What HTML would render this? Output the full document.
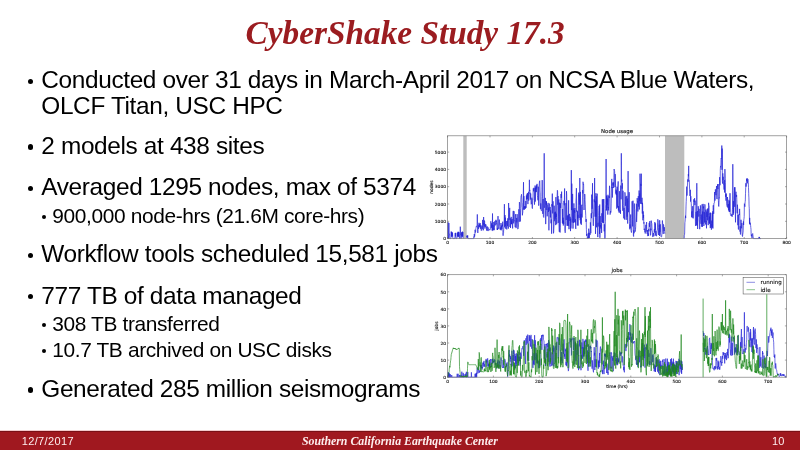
<!DOCTYPE html>
<html><head><meta charset="utf-8"><title>CyberShake Study 17.3</title>
<style>
*{margin:0;padding:0;box-sizing:border-box}
html,body{width:800px;height:450px;overflow:hidden;background:#fff}
body{position:relative;font-family:"Liberation Sans", Arial, sans-serif;color:#000}
.t{position:absolute;white-space:nowrap;line-height:0}
.dot{position:absolute;border-radius:50%;background:#000}
.title{font-family:"Liberation Serif", "Times New Roman", serif;font-weight:bold;font-style:italic;color:#9b1c20}
svg{position:absolute;left:0;top:0}
.tl{font-family:"DejaVu Sans",sans-serif;font-size:4.4px;fill:#111;stroke:#111;stroke-width:0.12}
.tt{font-family:"DejaVu Sans",sans-serif;font-size:5.4px;fill:#111;stroke:#111;stroke-width:0.12}
#foot{position:absolute;left:0;top:430px;width:800px;height:20px;background:linear-gradient(#f2c9cb 0,#f2c9cb 0.6px,#7a1016 1.2px,#7a1016 2px,#a0181f 2.2px,#a0181f 100%)}
.f{color:#fdeeee}
</style></head><body>
<svg width="800" height="450" viewBox="0 0 800 450">
<defs><filter id="bl" x="-5%" y="-5%" width="110%" height="110%"><feGaussianBlur stdDeviation="0.3"/></filter></defs><g filter="url(#bl)"><rect x="463.3" y="135.8" width="3.4" height="102.8" fill="#bdbdbd"/><rect x="665.0" y="135.8" width="19.3" height="102.8" fill="#bdbdbd"/><path d="M447.6 238.6 447.8 238.6 448.0 222.2 448.2 233.9 448.4 238.6 448.7 233.9 448.9 223.0 449.1 233.9 449.3 233.9 449.5 233.9 449.7 238.6 449.9 238.6 450.1 238.6 450.4 238.6 450.6 238.6 450.8 238.6 451.0 236.5 451.2 231.5 451.4 236.5 451.6 231.9 451.8 236.5 452.0 232.6 452.3 236.5 452.5 232.6 452.7 236.5 452.9 238.6 453.1 238.6 453.3 238.6 453.5 238.6 453.7 238.6 454.0 238.6 454.2 238.6 454.4 238.6 454.6 238.6 454.8 238.6 455.0 236.5 455.2 233.1 455.4 236.5 455.7 232.8 455.9 238.6 456.1 238.6 456.3 238.6 456.5 238.6 456.7 238.6 456.9 238.6 457.1 236.5 457.3 233.1 457.6 236.5 457.8 232.3 458.0 236.5 458.2 231.7 458.4 236.5 458.6 232.0 458.8 236.5 459.0 232.4 459.3 238.6 459.5 238.6 459.7 238.6 459.9 235.0 460.1 235.0 460.3 226.7 460.5 235.0 460.7 235.0 460.9 238.6 461.2 238.6 461.4 236.5 461.6 232.3 461.8 236.5 462.0 232.7 462.2 236.5 462.4 231.6 462.6 236.5 462.9 232.1 463.1 238.6M466.7 237.5 466.9 235.7 467.1 237.5 467.3 235.6 467.5 237.5 467.7 235.5 467.9 238.6 468.2 238.6 468.4 238.6 468.6 238.6 468.8 238.6 469.0 238.6 469.2 238.6 469.4 238.6 469.6 238.6 469.8 238.6 470.1 238.6 470.3 238.6 470.5 238.6 470.7 238.6 470.9 238.6 471.1 238.6 471.3 238.6 471.5 238.6 471.8 238.6 472.0 238.6 472.2 238.6 472.4 238.6 472.6 238.6 472.8 238.6 473.0 238.6 473.2 238.6 473.4 238.6 473.7 238.6 473.9 236.6 474.1 237.4 474.3 234.0 474.5 236.6 474.7 236.6 474.9 234.2 475.1 229.8 475.4 232.5 475.6 231.9 475.8 228.6 476.0 228.2 476.2 226.8 476.4 226.0 476.6 226.5 476.8 225.9 477.1 224.8 477.3 214.4 477.5 223.3 477.7 232.5 477.9 233.0 478.1 226.3 478.3 225.4 478.5 228.8 478.7 226.6 479.0 222.8 479.2 227.1 479.4 224.2 479.6 225.9 479.8 226.8 480.0 227.3 480.2 223.1 480.4 228.6 480.7 228.9 480.9 225.1 481.1 229.3 481.3 230.7 481.5 228.3 481.7 227.3 481.9 227.2 482.1 226.0 482.3 229.2 482.6 219.9 482.8 225.0 483.0 227.3 483.2 230.4 483.4 230.0 483.6 217.0 483.8 224.7 484.0 223.0 484.3 226.4 484.5 220.5 484.7 222.0 484.9 228.6 485.1 224.8 485.3 227.1 485.5 224.4 485.7 224.9 485.9 224.5 486.2 225.1 486.4 228.9 486.6 230.6 486.8 227.2 487.0 227.6 487.2 226.4 487.4 228.3 487.6 230.7 487.9 230.8 488.1 227.4 488.3 229.5 488.5 229.5 488.7 230.7 488.9 230.5 489.1 230.3 489.3 229.8 489.6 229.3 489.8 229.9 490.0 230.1 490.2 229.4 490.4 227.6 490.6 227.8 490.8 221.3 491.0 222.8 491.2 223.8 491.5 227.7 491.7 223.3 491.9 228.6 492.1 230.6 492.3 230.7 492.5 213.5 492.7 230.3 492.9 225.1 493.2 226.1 493.4 230.2 493.6 229.5 493.8 222.0 494.0 227.2 494.2 230.2 494.4 227.6 494.6 222.3 494.8 221.3 495.1 224.8 495.3 225.4 495.5 225.1 495.7 222.1 495.9 219.8 496.1 222.4 496.3 220.7 496.5 224.3 496.8 223.5 497.0 228.5 497.2 229.9 497.4 228.1 497.6 230.0 497.8 226.2 498.0 216.1 498.2 227.9 498.5 227.9 498.7 228.8 498.9 228.1 499.1 223.8 499.3 219.6 499.5 224.6 499.7 224.6 499.9 226.3 500.1 229.5 500.4 227.6 500.6 229.7 500.8 228.8 501.0 223.0 501.2 230.3 501.4 228.6 501.6 225.6 501.8 229.0 502.1 226.0 502.3 224.6 502.5 226.4 502.7 221.7 502.9 233.0 503.1 235.7 503.3 233.0 503.5 232.8 503.7 229.3 504.0 226.8 504.2 219.2 504.4 204.2 504.6 227.2 504.8 227.2 505.0 215.1 505.2 226.0 505.4 217.7 505.7 228.7 505.9 225.0 506.1 224.7 506.3 221.1 506.5 225.8 506.7 229.3 506.9 229.4 507.1 223.2 507.3 220.8 507.6 226.2 507.8 218.3 508.0 225.1 508.2 227.0 508.4 228.6 508.6 203.0 508.8 209.0 509.0 219.9 509.3 218.2 509.5 212.8 509.7 207.9 509.9 226.9 510.1 223.9 510.3 218.3 510.5 228.0 510.7 224.3 511.0 222.3 511.2 216.9 511.4 224.1 511.6 220.5 511.8 224.2 512.0 219.1 512.2 219.1 512.4 223.2 512.6 228.4 512.9 216.5 513.1 211.9 513.3 210.9 513.5 220.7 513.7 223.4 513.9 211.4 514.1 211.2 514.3 220.9 514.6 221.0 514.8 220.6 515.0 222.6 515.2 227.2 515.4 216.2 515.6 214.2 515.8 219.3 516.0 228.1 516.2 227.7 516.5 225.1 516.7 218.0 516.9 222.4 517.1 214.1 517.3 216.2 517.5 224.1 517.7 229.1 517.9 229.0 518.2 228.6 518.4 227.4 518.6 223.0 518.8 209.3 519.0 211.5 519.2 221.8 519.4 202.1 519.6 203.0 519.8 208.4 520.1 212.3 520.3 221.5 520.5 212.9 520.7 208.6 520.9 197.9 521.1 196.0 521.3 195.6 521.5 194.3 521.8 199.9 522.0 207.2 522.2 207.4 522.4 215.3 522.6 213.1 522.8 212.1 523.0 203.3 523.2 202.9 523.5 182.2 523.7 209.5 523.9 196.1 524.1 209.9 524.3 209.5 524.5 206.3 524.7 208.6 524.9 208.2 525.1 206.1 525.4 208.7 525.6 205.6 525.8 200.9 526.0 207.9 526.2 205.6 526.4 195.5 526.6 199.5 526.8 196.6 527.1 193.7 527.3 199.0 527.5 193.1 527.7 193.4 527.9 204.1 528.1 198.5 528.3 193.3 528.5 191.8 528.7 200.6 529.0 197.5 529.2 191.0 529.4 179.8 529.6 190.9 529.8 189.9 530.0 193.7 530.2 192.8 530.4 199.5 530.7 193.6 530.9 198.3 531.1 204.3 531.3 204.1 531.5 204.0 531.7 200.2 531.9 197.7 532.1 207.4 532.4 208.6 532.6 204.0 532.8 199.1 533.0 199.3 533.2 188.7 533.4 188.4 533.6 191.3 533.8 190.2 534.0 187.8 534.3 189.2 534.5 204.6 534.7 201.0 534.9 198.4 535.1 185.5 535.3 201.6 535.5 187.8 535.7 192.1 536.0 186.6 536.2 191.9 536.4 192.1 536.6 185.2 536.8 188.5 537.0 183.9 537.2 188.8 537.4 195.3 537.6 197.2 537.9 200.3 538.1 200.1 538.3 186.7 538.5 200.1 538.7 205.7 538.9 203.7 539.1 186.4 539.3 183.1 539.6 181.1 539.8 180.7 540.0 191.0 540.2 192.4 540.4 208.9 540.6 208.9 540.8 203.4 541.0 209.5 541.2 210.5 541.5 210.8 541.7 209.9 541.9 196.4 542.1 180.3 542.3 180.1 542.5 198.5 542.7 213.8 542.9 212.2 543.2 198.9 543.4 216.4 543.6 217.2 543.8 217.5 544.0 214.5 544.2 153.3 544.4 207.8 544.6 207.5 544.9 206.3 545.1 204.2 545.3 197.9 545.5 210.3 545.7 224.1 545.9 215.1 546.1 201.0 546.3 204.9 546.5 201.6 546.8 210.1 547.0 204.7 547.2 216.3 547.4 210.5 547.6 209.5 547.8 208.7 548.0 203.2 548.2 202.9 548.5 211.9 548.7 207.5 548.9 230.3 549.1 214.5 549.3 203.5 549.5 204.6 549.7 206.2 549.9 210.6 550.1 207.0 550.4 217.4 550.6 210.3 550.8 218.2 551.0 223.3 551.2 219.9 551.4 219.6 551.6 233.7 551.8 204.2 552.1 206.5 552.3 193.6 552.5 210.2 552.7 213.4 552.9 210.0 553.1 201.3 553.3 219.3 553.5 233.3 553.7 231.8 554.0 224.7 554.2 205.7 554.4 220.6 554.6 221.2 554.8 212.4 555.0 217.3 555.2 218.6 555.4 211.7 555.7 225.1 555.9 197.1 556.1 217.1 556.3 213.7 556.5 217.7 556.7 224.2 556.9 211.3 557.1 196.3 557.4 190.3 557.6 191.6 557.8 204.8 558.0 196.0 558.2 223.0 558.4 216.1 558.6 204.2 558.8 199.4 559.0 222.6 559.3 231.8 559.5 202.7 559.7 214.3 559.9 231.1 560.1 232.5 560.3 227.3 560.5 203.3 560.7 207.9 561.0 194.0 561.2 197.9 561.4 197.1 561.6 191.6 561.8 203.2 562.0 203.1 562.2 214.1 562.4 222.9 562.6 209.0 562.9 223.9 563.1 217.7 563.3 225.5 563.5 220.6 563.7 223.8 563.9 200.9 564.1 203.1 564.3 205.3 564.6 188.5 564.8 230.9 565.0 231.8 565.2 232.8 565.4 231.9 565.6 221.9 565.8 205.8 566.0 203.1 566.2 219.9 566.5 191.2 566.7 195.2 566.9 206.2 567.1 225.8 567.3 215.6 567.5 222.9 567.7 225.6 567.9 218.9 568.2 214.8 568.4 225.9 568.6 200.3 568.8 222.3 569.0 229.2 569.2 220.0 569.4 215.8 569.6 213.9 569.9 220.9 570.1 216.8 570.3 224.0 570.5 231.1 570.7 218.6 570.9 228.5 571.1 225.6 571.3 170.1 571.5 210.1 571.8 183.6 572.0 210.6 572.2 222.5 572.4 218.5 572.6 193.9 572.8 208.1 573.0 228.6 573.2 208.4 573.5 223.0 573.7 222.1 573.9 203.4 574.1 218.4 574.3 222.1 574.5 210.1 574.7 212.8 574.9 208.0 575.1 222.5 575.4 219.2 575.6 227.0 575.8 228.9 576.0 200.1 576.2 197.1 576.4 188.2 576.6 211.6 576.8 210.4 577.1 211.2 577.3 225.4 577.5 211.3 577.7 218.4 577.9 214.8 578.1 225.6 578.3 205.3 578.5 194.3 578.8 192.6 579.0 213.6 579.2 217.9 579.4 194.4 579.6 204.6 579.8 178.0 580.0 201.2 580.2 220.2 580.4 191.9 580.7 223.6 580.9 215.1 581.1 213.9 581.3 224.8 581.5 217.3 581.7 205.0 581.9 204.7 582.1 217.5 582.4 206.4 582.6 190.1 582.8 193.4 583.0 181.8 583.2 182.5 583.4 184.9 583.6 184.4 583.8 197.6 584.0 210.0 584.3 203.0 584.5 199.5 584.7 194.0 584.9 195.1 585.1 200.6 585.3 204.9 585.5 210.9 585.7 215.3 586.0 221.8 586.2 219.1 586.4 229.3 586.6 235.7 586.8 234.0 587.0 235.9 587.2 236.1 587.4 238.5 587.6 237.4 587.9 236.9 588.1 234.7 588.3 232.9 588.5 238.3 588.7 228.7 588.9 230.5 589.1 231.3 589.3 238.0 589.6 234.7 589.8 232.9 590.0 234.9 590.2 231.7 590.4 222.4 590.6 225.8 590.8 233.2 591.0 215.1 591.3 213.1 591.5 218.2 591.7 194.6 591.9 198.6 592.1 208.8 592.3 207.8 592.5 183.2 592.7 213.1 592.9 212.8 593.2 224.9 593.4 225.8 593.6 217.5 593.8 209.9 594.0 204.0 594.2 199.4 594.4 202.2 594.6 178.0 594.9 211.9 595.1 216.7 595.3 201.3 595.5 233.9 595.7 219.5 595.9 193.2 596.1 216.8 596.3 196.3 596.5 227.3 596.8 216.2 597.0 195.9 597.2 193.7 597.4 208.9 597.6 230.8 597.8 237.1 598.0 222.8 598.2 226.5 598.5 223.0 598.7 215.5 598.9 210.2 599.1 205.9 599.3 207.6 599.5 233.9 599.7 204.5 599.9 237.8 600.2 216.1 600.4 226.6 600.6 225.1 600.8 228.5 601.0 227.9 601.2 223.1 601.4 223.2 601.6 232.9 601.8 213.3 602.1 222.3 602.3 199.3 602.5 207.7 602.7 222.7 602.9 210.5 603.1 199.3 603.3 221.1 603.5 223.0 603.8 199.0 604.0 221.6 604.2 231.3 604.4 224.3 604.6 234.9 604.8 238.6 605.0 238.6 605.2 236.0 605.4 221.2 605.7 208.4 605.9 204.5 606.1 159.0 606.3 210.4 606.5 195.6 606.7 210.3 606.9 196.4 607.1 205.3 607.4 202.6 607.6 198.5 607.8 214.6 608.0 194.8 608.2 207.8 608.4 207.1 608.6 210.4 608.8 201.2 609.0 196.0 609.3 198.0 609.5 185.8 609.7 189.4 609.9 199.2 610.1 214.6 610.3 213.5 610.5 211.2 610.7 212.3 611.0 212.5 611.2 203.9 611.4 190.0 611.6 180.8 611.8 178.9 612.0 188.0 612.2 187.0 612.4 197.5 612.7 187.1 612.9 182.6 613.1 185.5 613.3 182.4 613.5 185.1 613.7 188.0 613.9 177.7 614.1 169.0 614.3 170.2 614.6 171.2 614.8 175.8 615.0 187.0 615.2 174.1 615.4 183.8 615.6 185.6 615.8 193.6 616.0 189.6 616.3 195.1 616.5 190.6 616.7 208.6 616.9 207.1 617.1 186.7 617.3 203.8 617.5 207.5 617.7 187.0 617.9 186.4 618.2 181.4 618.4 210.5 618.6 206.1 618.8 211.6 619.0 212.5 619.2 208.6 619.4 191.2 619.6 210.2 619.9 212.6 620.1 212.6 620.3 210.2 620.5 213.8 620.7 185.6 620.9 186.0 621.1 199.3 621.3 153.3 621.5 181.5 621.8 179.7 622.0 186.3 622.2 188.7 622.4 183.2 622.6 204.4 622.8 210.8 623.0 190.8 623.2 205.4 623.5 210.4 623.7 218.1 623.9 218.4 624.1 207.9 624.3 215.1 624.5 219.5 624.7 219.2 624.9 192.3 625.2 194.9 625.4 205.8 625.6 201.5 625.8 196.6 626.0 198.0 626.2 219.9 626.4 209.8 626.6 209.6 626.8 195.9 627.1 216.6 627.3 198.6 627.5 207.9 627.7 223.6 627.9 203.1 628.1 171.1 628.3 207.6 628.5 212.2 628.8 198.2 629.0 193.8 629.2 192.2 629.4 193.9 629.6 221.7 629.8 229.3 630.0 224.4 630.2 228.1 630.4 218.4 630.7 214.5 630.9 229.3 631.1 231.1 631.3 232.3 631.5 232.6 631.7 230.5 631.9 217.4 632.1 201.3 632.4 219.7 632.6 226.4 632.8 203.1 633.0 200.7 633.2 204.4 633.4 235.4 633.6 236.5 633.8 230.3 634.1 233.2 634.3 203.5 634.5 208.9 634.7 209.6 634.9 227.5 635.1 231.7 635.3 230.9 635.5 229.5 635.7 226.4 636.0 218.0 636.2 212.9 636.4 203.7 636.6 221.9 636.8 216.8 637.0 213.0 637.2 198.1 637.4 202.4 637.7 201.4 637.9 211.5 638.1 201.8 638.3 196.1 638.5 205.7 638.7 206.6 638.9 202.1 639.1 190.5 639.3 209.5 639.6 193.4 639.8 200.9 640.0 173.7 640.2 181.2 640.4 189.1 640.6 203.8 640.8 183.9 641.0 185.9 641.3 173.7 641.5 199.4 641.7 204.1 641.9 197.9 642.1 197.8 642.3 213.5 642.5 202.8 642.7 206.8 642.9 220.3 643.2 211.4 643.4 217.8 643.6 215.0 643.8 223.5 644.0 222.3 644.2 229.9 644.4 228.7 644.6 231.7 644.9 231.3 645.1 233.4 645.3 233.4 645.5 230.9 645.7 228.7 645.9 224.9 646.1 231.6 646.3 224.4 646.6 222.1 646.8 229.7 647.0 233.1 647.2 233.8 647.4 232.3 647.6 230.0 647.8 236.1 648.0 233.9 648.2 233.4 648.5 235.8 648.7 228.9 648.9 231.3 649.1 223.5 649.3 222.8 649.5 226.9 649.7 221.8 649.9 221.0 650.2 226.2 650.4 235.4 650.6 234.9 650.8 228.7 651.0 230.2 651.2 220.6 651.4 222.0 651.6 223.2 651.8 223.5 652.1 231.3 652.3 231.2 652.5 234.0 652.7 236.8 652.9 236.9 653.1 234.9 653.3 234.7 653.5 233.0 653.8 236.3 654.0 235.9 654.2 230.1 654.4 229.1 654.6 232.5 654.8 222.1 655.0 225.3 655.2 229.9 655.4 223.4 655.7 235.5 655.9 230.8 656.1 235.4 656.3 236.0 656.5 236.2 656.7 234.7 656.9 233.1 657.1 230.8 657.4 230.1 657.6 222.2 657.8 219.3 658.0 220.3 658.2 221.0 658.4 227.6 658.6 235.0 658.8 230.5 659.1 229.9 659.3 224.7 659.5 236.0 659.7 220.2 659.9 232.2 660.1 231.2 660.3 224.3 660.5 234.7 660.7 235.2 661.0 236.8 661.2 236.9 661.4 236.9 661.6 236.6 661.8 234.3 662.0 234.3 662.2 225.4 662.4 220.5 662.7 224.2 662.9 229.7 663.1 232.3 663.3 233.9 663.5 224.4 663.7 225.5 663.9 230.2 664.1 231.0 664.3 227.2 664.6 231.6 664.8 233.8M684.1 238.6 684.3 235.2 684.5 234.8 684.7 232.1 684.9 222.7 685.1 221.2 685.3 218.1 685.5 215.7 685.7 218.1 686.0 206.9 686.2 201.8 686.4 197.9 686.6 191.7 686.8 186.6 687.0 195.6 687.2 187.4 687.4 186.5 687.7 179.7 687.9 179.3 688.1 181.9 688.3 174.2 688.5 176.3 688.7 165.9 688.9 180.9 689.1 180.4 689.3 180.8 689.6 189.9 689.8 193.5 690.0 196.0 690.2 193.0 690.4 189.8 690.6 201.6 690.8 196.2 691.0 201.1 691.3 203.6 691.5 211.7 691.7 217.2 691.9 211.2 692.1 216.8 692.3 217.7 692.5 210.7 692.7 206.2 693.0 218.2 693.2 218.4 693.4 217.8 693.6 202.4 693.8 199.3 694.0 200.8 694.2 202.3 694.4 200.1 694.6 198.2 694.9 205.1 695.1 200.6 695.3 214.0 695.5 226.0 695.7 225.8 695.9 223.3 696.1 211.9 696.3 224.8 696.6 224.9 696.8 183.2 697.0 225.8 697.2 225.4 697.4 211.0 697.6 229.0 697.8 222.1 698.0 220.5 698.2 206.2 698.5 209.5 698.7 216.5 698.9 216.5 699.1 208.8 699.3 210.8 699.5 213.4 699.7 229.2 699.9 220.6 700.2 219.6 700.4 205.4 700.6 210.1 700.8 214.4 701.0 223.8 701.2 214.5 701.4 219.3 701.6 226.7 701.9 208.9 702.1 204.3 702.3 212.0 702.5 226.8 702.7 211.5 702.9 224.1 703.1 203.9 703.3 208.3 703.5 206.5 703.8 226.0 704.0 224.8 704.2 211.9 704.4 212.5 704.6 222.5 704.8 204.3 705.0 205.2 705.2 212.5 705.5 222.7 705.7 224.5 705.9 209.6 706.1 222.1 706.3 221.3 706.5 228.3 706.7 211.6 706.9 217.0 707.1 210.2 707.4 208.9 707.6 220.3 707.8 213.3 708.0 208.3 708.2 225.1 708.4 215.5 708.6 202.8 708.8 205.4 709.1 205.6 709.3 223.3 709.5 216.5 709.7 223.8 709.9 212.9 710.1 215.2 710.3 228.1 710.5 212.7 710.7 217.1 711.0 227.3 711.2 223.4 711.4 229.7 711.6 221.3 711.8 220.6 712.0 223.2 712.2 212.9 712.4 227.7 712.7 211.3 712.9 228.5 713.1 206.5 713.3 205.2 713.5 207.5 713.7 213.8 713.9 203.4 714.1 203.4 714.4 202.6 714.6 192.0 714.8 197.7 715.0 200.6 715.2 195.1 715.4 189.3 715.6 193.3 715.8 193.8 716.0 195.2 716.3 190.8 716.5 186.0 716.7 197.1 716.9 199.0 717.1 199.2 717.3 192.2 717.5 184.3 717.7 187.4 718.0 189.1 718.2 184.0 718.4 200.4 718.6 206.1 718.8 206.5 719.0 202.5 719.2 197.7 719.4 198.2 719.6 177.2 719.9 185.3 720.1 184.9 720.3 170.6 720.5 166.3 720.7 167.2 720.9 164.2 721.1 158.4 721.3 159.0 721.6 157.6 721.8 145.5 722.0 169.8 722.2 148.6 722.4 181.7 722.6 183.6 722.8 173.3 723.0 179.9 723.2 176.8 723.5 184.5 723.7 184.3 723.9 185.8 724.1 189.6 724.3 180.1 724.5 192.5 724.7 184.7 724.9 169.1 725.2 178.5 725.4 182.5 725.6 196.8 725.8 194.3 726.0 200.7 726.2 193.4 726.4 196.7 726.6 203.9 726.9 205.2 727.1 206.4 727.3 206.8 727.5 197.0 727.7 201.0 727.9 207.1 728.1 208.1 728.3 204.0 728.5 210.4 728.8 207.4 729.0 199.8 729.2 211.8 729.4 201.1 729.6 211.9 729.8 210.5 730.0 193.2 730.2 212.3 730.5 214.8 730.7 215.3 730.9 215.8 731.1 215.2 731.3 215.3 731.5 215.3 731.7 215.8 731.9 213.9 732.1 216.8 732.4 209.8 732.6 207.1 732.8 164.2 733.0 190.6 733.2 214.9 733.4 201.1 733.6 213.3 733.8 206.4 734.1 199.8 734.3 192.6 734.5 187.5 734.7 206.8 734.9 187.1 735.1 189.8 735.3 207.4 735.5 222.3 735.8 193.6 736.0 191.8 736.2 196.7 736.4 196.9 736.6 194.9 736.8 199.2 737.0 209.9 737.2 213.3 737.4 204.7 737.7 209.2 737.9 225.2 738.1 215.0 738.3 229.2 738.5 229.5 738.7 215.4 738.9 214.7 739.1 214.1 739.4 215.1 739.6 208.9 739.8 213.1 740.0 231.6 740.2 226.2 740.4 234.1 740.6 234.5 740.8 228.3 741.0 219.8 741.3 227.0 741.5 228.1 741.7 228.3 741.9 223.1 742.1 231.6 742.3 235.5 742.5 236.5 742.7 234.8 743.0 232.7 743.2 230.8 743.4 221.4 743.6 225.0 743.8 219.9 744.0 218.5 744.2 216.7 744.4 203.7 744.6 204.9 744.9 206.7 745.1 201.9 745.3 201.1 745.5 193.8 745.7 187.5 745.9 183.2 746.1 186.6 746.3 183.9 746.6 178.8 746.8 181.1 747.0 178.9 747.2 178.2 747.4 183.3 747.6 180.0 747.8 179.5 748.0 179.2 748.3 182.6 748.5 187.6 748.7 193.7 748.9 197.9 749.1 206.1 749.3 208.7 749.5 223.8 749.7 217.9 749.9 224.5 750.2 222.7 750.4 223.4 750.6 225.6 750.8 227.5 751.0 229.3 751.2 235.3 751.4 236.2 751.6 234.5 751.9 237.6 752.1 238.2 752.3 234.8 752.5 234.0 752.7 233.5 752.9 235.1 753.1 236.4 753.3 237.4 753.5 238.6 753.8 238.6 754.0 238.6 754.2 238.6 754.4 238.6 754.6 238.6 754.8 238.6 755.0 238.6 755.2 238.6 755.5 238.6 755.7 238.6 755.9 238.6 756.1 238.6 756.3 238.6 756.5 238.6 756.7 238.6 756.9 238.6 757.1 238.6 757.4 238.6 757.6 238.6 757.8 238.6 758.0 238.6 758.2 238.6 758.4 238.6 758.6 238.6 758.8 238.6 759.1 236.9 759.3 238.6 759.5 237.2 759.7 238.6 759.9 238.6 760.1 238.6 760.3 238.6 760.5 238.6 760.8 238.6 761.0 238.6" stroke="#2424d6" stroke-width="0.7" fill="none" stroke-linejoin="round"/>
<path d="M447.6 377.2 447.8 377.2 448.1 372.4 448.3 377.2 448.5 377.2 448.7 372.4 449.0 377.2 449.2 377.2 449.4 373.4 449.7 377.2 449.9 377.2 450.1 377.2 450.3 374.2 450.6 377.2 450.8 377.2 451.0 377.2 451.3 377.2 451.5 377.2 451.7 375.0 452.0 377.2 452.2 377.2 452.4 377.2 452.6 377.2 452.9 377.2 453.1 377.2 453.3 377.2 453.6 377.2 453.8 377.2 454.0 377.2 454.2 377.2 454.5 377.2 454.7 377.2 454.9 377.2 455.2 377.2 455.4 377.2 455.6 377.2 455.8 377.2 456.1 377.2 456.3 377.2 456.5 377.2 456.8 377.2 457.0 377.2 457.2 373.8 457.4 377.2 457.7 377.2 457.9 377.2 458.1 373.8 458.4 377.2 458.6 377.2 458.8 377.2 459.0 377.2 459.3 377.2 459.5 375.0 459.7 377.2 460.0 377.2 460.2 377.2 460.4 377.2 460.7 377.2 460.9 375.0 461.1 377.2 461.3 377.2 461.6 377.2 461.8 371.7 462.0 377.2 462.3 377.2 462.5 377.2 462.7 377.2 462.9 377.2 463.2 372.9 463.4 377.2 463.6 377.2 463.9 377.2 464.1 374.3 464.3 377.2 464.5 377.2 464.8 377.2 465.0 377.2 465.2 377.2 465.5 373.7 465.7 377.2 465.9 377.2 466.1 377.2 466.4 371.8 466.6 377.2 466.8 377.2 467.1 377.2 467.3 377.2 467.5 377.2 467.8 372.1 468.0 377.2 468.2 377.2 468.4 377.2 468.7 377.2 468.9 377.2 469.1 377.2 469.4 377.2 469.6 377.2 469.8 377.2 470.0 377.2 470.3 377.2 470.5 377.2 470.7 377.2 471.0 377.2 471.2 377.2 471.4 372.3 471.6 377.2 471.9 377.2 472.1 377.2 472.3 377.2 472.6 377.2 472.8 377.2 473.0 377.2 473.2 377.2 473.5 377.2 473.7 377.2 473.9 377.2 474.2 377.2 474.4 377.2 474.6 377.2 474.8 377.2 475.1 373.8 475.3 377.2 475.5 377.2 475.8 373.5 476.0 377.2 476.2 377.2 476.5 372.8 476.7 377.2 476.9 369.7 477.1 368.4 477.4 367.8 477.6 367.6 477.8 373.5 478.1 372.5 478.3 369.5 478.5 370.2 478.7 370.1 479.0 370.6 479.2 372.9 479.4 370.8 479.7 371.4 479.9 372.1 480.1 369.6 480.3 367.6 480.6 365.5 480.8 365.2 481.0 367.6 481.3 364.9 481.5 368.0 481.7 366.9 481.9 368.6 482.2 369.4 482.4 367.1 482.6 368.1 482.9 362.7 483.1 366.7 483.3 362.6 483.6 364.2 483.8 362.3 484.0 360.9 484.2 366.3 484.5 364.3 484.7 365.1 484.9 367.1 485.2 363.4 485.4 362.3 485.6 361.9 485.8 359.4 486.1 358.9 486.3 359.7 486.5 362.6 486.8 359.7 487.0 362.1 487.2 366.6 487.4 360.6 487.7 358.3 487.9 362.1 488.1 361.8 488.4 366.3 488.6 363.7 488.8 364.9 489.0 367.4 489.3 363.8 489.5 365.9 489.7 364.0 490.0 365.9 490.2 360.2 490.4 359.0 490.6 361.1 490.9 367.4 491.1 365.9 491.3 367.0 491.6 362.5 491.8 359.4 492.0 360.3 492.3 359.2 492.5 363.5 492.7 361.6 492.9 358.7 493.2 363.1 493.4 361.2 493.6 361.8 493.9 360.4 494.1 361.5 494.3 362.2 494.5 359.4 494.8 360.7 495.0 360.3 495.2 365.2 495.5 364.2 495.7 362.9 495.9 363.9 496.1 364.3 496.4 368.2 496.6 368.5 496.8 368.4 497.1 368.2 497.3 363.0 497.5 361.6 497.7 366.4 498.0 359.7 498.2 365.4 498.4 367.7 498.7 368.2 498.9 367.7 499.1 360.7 499.4 362.9 499.6 362.2 499.8 367.3 500.0 367.7 500.3 360.2 500.5 358.7 500.7 358.2 501.0 357.4 501.2 357.7 501.4 357.9 501.6 361.2 501.9 366.4 502.1 367.3 502.3 367.2 502.6 367.9 502.8 366.1 503.0 360.1 503.2 361.5 503.5 366.7 503.7 368.0 503.9 365.2 504.2 362.4 504.4 362.3 504.6 361.1 504.8 359.1 505.1 360.3 505.3 360.5 505.5 362.6 505.8 367.6 506.0 366.3 506.2 366.0 506.4 364.5 506.7 366.0 506.9 364.2 507.1 362.4 507.4 370.3 507.6 376.7 507.8 375.4 508.1 372.4 508.3 366.3 508.5 358.2 508.7 356.5 509.0 352.8 509.2 349.9 509.4 356.7 509.7 354.3 509.9 359.2 510.1 361.7 510.3 355.9 510.6 359.0 510.8 357.5 511.0 364.8 511.3 363.8 511.5 366.9 511.7 367.0 511.9 350.8 512.2 354.1 512.4 357.5 512.6 360.5 512.9 366.2 513.1 355.0 513.3 360.8 513.5 349.8 513.8 354.0 514.0 350.4 514.2 353.0 514.5 358.4 514.7 361.0 514.9 353.9 515.2 357.2 515.4 368.3 515.6 356.0 515.8 361.6 516.1 363.5 516.3 353.3 516.5 364.7 516.8 365.8 517.0 360.3 517.2 356.2 517.4 354.0 517.7 361.0 517.9 354.5 518.1 358.5 518.4 356.7 518.6 363.1 518.8 351.8 519.0 354.8 519.3 356.9 519.5 361.0 519.7 356.7 520.0 365.6 520.2 363.5 520.4 363.9 520.6 352.6 520.9 356.6 521.1 358.9 521.3 358.4 521.6 353.1 521.8 348.6 522.0 348.9 522.2 349.1 522.5 347.4 522.7 346.8 522.9 346.1 523.2 348.4 523.4 350.4 523.6 355.9 523.9 342.5 524.1 341.2 524.3 340.1 524.5 344.6 524.8 344.5 525.0 350.2 525.2 355.1 525.5 363.3 525.7 364.0 525.9 338.3 526.1 344.9 526.4 339.4 526.6 335.9 526.8 336.1 527.1 335.8 527.3 343.6 527.5 336.4 527.7 334.6 528.0 335.3 528.2 340.7 528.4 349.7 528.7 360.9 528.9 349.9 529.1 340.3 529.3 335.1 529.6 341.0 529.8 337.4 530.0 336.2 530.3 338.8 530.5 346.6 530.7 342.6 531.0 334.9 531.2 340.3 531.4 344.7 531.6 348.7 531.9 347.8 532.1 339.1 532.3 346.3 532.6 365.3 532.8 367.2 533.0 367.9 533.2 364.9 533.5 360.5 533.7 364.3 533.9 353.2 534.2 365.2 534.4 362.9 534.6 335.2 534.8 359.7 535.1 349.2 535.3 340.2 535.5 345.3 535.8 345.2 536.0 360.2 536.2 353.0 536.4 362.6 536.7 363.3 536.9 354.6 537.1 356.5 537.4 362.7 537.6 359.6 537.8 360.0 538.0 363.4 538.3 368.2 538.5 367.5 538.7 360.9 539.0 363.7 539.2 364.0 539.4 364.7 539.7 359.1 539.9 366.4 540.1 358.2 540.3 339.2 540.6 338.4 540.8 339.9 541.0 341.2 541.3 339.9 541.5 335.2 541.7 346.9 541.9 349.8 542.2 344.2 542.4 335.4 542.6 336.1 542.9 334.6 543.1 336.3 543.3 335.5 543.5 339.5 543.8 340.6 544.0 340.8 544.2 358.7 544.5 356.4 544.7 348.6 544.9 344.2 545.1 360.2 545.4 366.0 545.6 358.5 545.8 364.3 546.1 343.9 546.3 345.0 546.5 343.8 546.8 348.4 547.0 357.6 547.2 353.9 547.4 357.2 547.7 343.1 547.9 346.2 548.1 347.1 548.4 342.7 548.6 340.0 548.8 361.9 549.0 341.8 549.3 358.8 549.5 364.9 549.7 365.1 550.0 366.7 550.2 347.5 550.4 348.8 550.6 362.1 550.9 362.8 551.1 365.1 551.3 366.1 551.6 360.3 551.8 352.4 552.0 354.0 552.2 364.7 552.5 365.4 552.7 353.5 552.9 347.8 553.2 351.6 553.4 345.5 553.6 365.0 553.8 366.4 554.1 363.7 554.3 357.8 554.5 348.3 554.8 348.3 555.0 347.4 555.2 346.3 555.5 360.9 555.7 362.6 555.9 346.0 556.1 342.8 556.4 348.3 556.6 350.0 556.8 339.4 557.1 337.4 557.3 337.1 557.5 337.1 557.7 337.9 558.0 340.6 558.2 358.5 558.4 345.3 558.7 339.7 558.9 337.4 559.1 340.6 559.3 337.8 559.6 338.1 559.8 339.0 560.0 340.0 560.3 350.7 560.5 350.4 560.7 361.9 560.9 363.3 561.2 357.7 561.4 360.6 561.6 352.0 561.9 358.5 562.1 360.6 562.3 363.2 562.6 358.5 562.8 354.2 563.0 343.7 563.2 346.8 563.5 353.8 563.7 350.9 563.9 340.2 564.2 339.4 564.4 356.5 564.6 353.9 564.8 358.6 565.1 359.0 565.3 348.7 565.5 351.1 565.8 350.5 566.0 365.1 566.2 361.9 566.4 366.2 566.7 361.6 566.9 347.8 567.1 356.6 567.4 360.0 567.6 350.9 567.8 365.6 568.0 366.9 568.3 371.1 568.5 370.6 568.7 368.4 569.0 366.9 569.2 347.9 569.4 342.6 569.6 342.6 569.9 339.6 570.1 338.1 570.3 339.7 570.6 341.9 570.8 341.1 571.0 339.1 571.3 355.4 571.5 354.5 571.7 338.8 571.9 340.2 572.2 338.1 572.4 337.9 572.6 337.9 572.9 337.9 573.1 338.0 573.3 344.5 573.5 350.3 573.8 340.4 574.0 337.9 574.2 338.0 574.5 345.0 574.7 347.2 574.9 364.2 575.1 358.8 575.4 342.8 575.6 354.1 575.8 360.3 576.1 361.1 576.3 360.6 576.5 352.7 576.7 349.2 577.0 344.6 577.2 354.8 577.4 343.8 577.7 340.8 577.9 348.6 578.1 354.3 578.4 357.9 578.6 370.2 578.8 349.0 579.0 344.8 579.3 345.2 579.5 339.8 579.7 342.2 580.0 346.5 580.2 340.3 580.4 351.5 580.6 359.4 580.9 370.2 581.1 370.1 581.3 354.8 581.6 358.8 581.8 342.4 582.0 348.7 582.2 347.2 582.5 358.7 582.7 349.0 582.9 338.9 583.2 341.9 583.4 356.5 583.6 356.1 583.8 347.2 584.1 356.6 584.3 341.4 584.5 354.2 584.8 347.7 585.0 340.6 585.2 341.9 585.4 339.5 585.7 339.9 585.9 344.0 586.1 349.3 586.4 339.7 586.6 359.2 586.8 354.9 587.1 361.2 587.3 363.1 587.5 350.4 587.7 361.5 588.0 370.8 588.2 356.2 588.4 344.3 588.7 346.7 588.9 357.3 589.1 366.4 589.3 361.4 589.6 354.5 589.8 349.5 590.0 346.1 590.3 348.5 590.5 345.7 590.7 348.2 590.9 347.0 591.2 352.0 591.4 351.1 591.6 362.2 591.9 362.8 592.1 368.7 592.3 360.3 592.5 365.8 592.8 367.1 593.0 370.0 593.2 370.8 593.5 372.3 593.7 365.0 593.9 357.3 594.2 347.2 594.4 355.4 594.6 352.7 594.8 370.0 595.1 359.3 595.3 367.0 595.5 352.3 595.8 347.7 596.0 339.6 596.2 340.6 596.4 347.0 596.7 340.4 596.9 340.4 597.1 340.8 597.4 340.9 597.6 341.9 597.8 363.5 598.0 364.8 598.3 368.7 598.5 361.2 598.7 366.7 599.0 359.9 599.2 367.2 599.4 356.4 599.6 353.0 599.9 363.1 600.1 351.1 600.3 346.7 600.6 346.7 600.8 351.6 601.0 352.3 601.2 354.3 601.5 361.3 601.7 362.3 601.9 363.5 602.2 372.4 602.4 370.1 602.6 374.1 602.9 371.3 603.1 370.0 603.3 360.7 603.5 366.0 603.8 364.8 604.0 374.1 604.2 364.4 604.5 353.6 604.7 356.0 604.9 355.6 605.1 354.2 605.4 356.8 605.6 353.7 605.8 358.0 606.1 359.7 606.3 361.5 606.5 366.4 606.7 373.0 607.0 364.4 607.2 363.7 607.4 369.0 607.7 373.2 607.9 372.1 608.1 374.8 608.3 369.2 608.6 364.7 608.8 361.3 609.0 355.4 609.3 355.6 609.5 354.7 609.7 352.6 610.0 352.7 610.2 368.5 610.4 357.9 610.6 356.4 610.9 354.7 611.1 352.1 611.3 354.0 611.6 353.7 611.8 368.6 612.0 356.1 612.2 357.5 612.5 358.1 612.7 360.7 612.9 357.5 613.2 371.2 613.4 355.8 613.6 356.2 613.8 357.1 614.1 352.6 614.3 352.2 614.5 352.3 614.8 356.5 615.0 353.1 615.2 353.8 615.4 359.2 615.7 360.9 615.9 359.6 616.1 365.1 616.4 358.2 616.6 363.5 616.8 356.7 617.0 356.8 617.3 355.8 617.5 365.1 617.7 365.1 618.0 360.0 618.2 357.8 618.4 362.4 618.7 359.3 618.9 361.8 619.1 361.0 619.3 354.9 619.6 352.1 619.8 351.6 620.0 351.7 620.3 353.4 620.5 355.7 620.7 352.8 620.9 354.0 621.2 352.0 621.4 353.7 621.6 352.6 621.9 361.1 622.1 362.4 622.3 357.8 622.5 356.4 622.8 356.9 623.0 365.1 623.2 364.9 623.5 366.3 623.7 370.2 623.9 367.0 624.1 370.9 624.4 372.3 624.6 351.3 624.8 348.5 625.1 343.9 625.3 344.2 625.5 344.5 625.8 350.4 626.0 351.1 626.2 348.8 626.4 344.0 626.7 345.9 626.9 346.3 627.1 346.2 627.4 340.0 627.6 341.8 627.8 336.0 628.0 340.7 628.3 335.4 628.5 335.2 628.7 332.0 629.0 338.8 629.2 339.5 629.4 337.6 629.6 340.0 629.9 324.2 630.1 335.0 630.3 332.4 630.6 336.1 630.8 333.3 631.0 341.6 631.2 336.6 631.5 342.4 631.7 342.8 631.9 340.0 632.2 335.5 632.4 333.7 632.6 342.3 632.9 343.5 633.1 343.4 633.3 342.1 633.5 342.9 633.8 342.8 634.0 341.1 634.2 342.1 634.5 341.5 634.7 341.6 634.9 350.9 635.1 355.0 635.4 356.2 635.6 356.4 635.8 360.2 636.1 355.9 636.3 363.9 636.5 364.7 636.7 363.2 637.0 359.9 637.2 364.6 637.4 363.0 637.7 365.8 637.9 366.8 638.1 355.8 638.3 364.3 638.6 351.4 638.8 358.9 639.0 349.8 639.3 354.0 639.5 362.3 639.7 360.0 639.9 359.0 640.2 356.5 640.4 362.7 640.6 367.3 640.9 366.2 641.1 366.2 641.3 367.3 641.6 366.0 641.8 354.6 642.0 346.9 642.2 347.5 642.5 344.3 642.7 343.2 642.9 343.1 643.2 349.3 643.4 356.7 643.6 354.2 643.8 348.2 644.1 358.2 644.3 344.6 644.5 349.4 644.8 358.8 645.0 367.7 645.2 361.4 645.4 352.3 645.7 347.2 645.9 348.8 646.1 348.5 646.4 349.7 646.6 344.1 646.8 344.2 647.0 343.7 647.3 354.5 647.5 365.2 647.7 356.8 648.0 353.1 648.2 349.8 648.4 352.2 648.7 351.9 648.9 357.0 649.1 353.4 649.3 364.7 649.6 361.2 649.8 363.1 650.0 365.1 650.3 363.6 650.5 361.5 650.7 360.4 650.9 348.1 651.2 358.2 651.4 364.6 651.6 363.3 651.9 362.8 652.1 360.9 652.3 355.3 652.5 355.3 652.8 362.0 653.0 354.3 653.2 355.7 653.5 357.6 653.7 360.0 653.9 365.8 654.1 371.2 654.4 370.1 654.6 367.7 654.8 364.5 655.1 371.9 655.3 365.8 655.5 371.8 655.7 364.4 656.0 357.6 656.2 363.8 656.4 361.9 656.7 360.0 656.9 363.8 657.1 359.2 657.4 369.1 657.6 371.7 657.8 367.3 658.0 360.2 658.3 363.7 658.5 373.4 658.7 368.2 659.0 360.4 659.2 359.3 659.4 362.7 659.6 361.7 659.9 375.2 660.1 372.4 660.3 371.2 660.6 360.8 660.8 367.1 661.0 364.8 661.2 367.9 661.5 368.6 661.7 368.9 661.9 367.4 662.2 361.1 662.4 361.6 662.6 359.7 662.8 362.5 663.1 375.0 663.3 371.7 663.5 371.4 663.8 374.1 664.0 359.1 664.2 361.4 664.5 369.2 664.7 374.7 664.9 370.0 665.1 373.0 665.4 370.1 665.6 368.8 665.8 358.5 666.1 369.2 666.3 374.8 666.5 370.4 666.7 368.6 667.0 371.2 667.2 374.5 667.4 358.7 667.7 374.7 667.9 363.8 668.1 367.2 668.3 361.8 668.6 364.8 668.8 374.9 669.0 375.3 669.3 374.6 669.5 364.8 669.7 373.7 669.9 373.6 670.2 370.2 670.4 375.3 670.6 359.2 670.9 364.2 671.1 365.5 671.3 362.6 671.5 358.4 671.8 374.1 672.0 362.4 672.2 361.6 672.5 367.8 672.7 371.8 672.9 362.7 673.2 373.6 673.4 358.7 673.6 372.2 673.8 362.2 674.1 365.0 674.3 365.8 674.5 364.6 674.8 375.1 675.0 374.7 675.2 365.1 675.4 366.2 675.7 372.8 675.9 360.9 676.1 361.3 676.4 362.6 676.6 374.1 676.8 361.2 677.0 370.0 677.3 362.3 677.5 363.3 677.7 365.8 678.0 366.8 678.2 367.8 678.4 367.6 678.6 366.8 678.9 358.8 679.1 375.2 679.3 361.4 679.6 360.0 679.8 363.7 680.0 360.6 680.3 369.1 680.5 364.4 680.7 367.1 680.9 370.9 681.2 372.6 681.4 360.7 681.6 373.9 681.9 361.4 682.1 370.0 682.3 366.5M703.1 331.2 703.4 332.3 703.6 336.0 703.8 333.0 704.1 336.2 704.3 340.8 704.5 349.3 704.8 348.2 705.0 349.4 705.2 353.0 705.4 354.6 705.7 352.9 705.9 347.6 706.1 350.0 706.4 352.4 706.6 351.7 706.8 355.0 707.0 355.0 707.3 353.3 707.5 345.9 707.7 349.2 708.0 349.5 708.2 354.1 708.4 354.8 708.6 354.0 708.9 354.7 709.1 347.8 709.3 339.0 709.6 338.2 709.8 337.8 710.0 344.9 710.2 345.2 710.5 354.0 710.7 349.5 710.9 344.4 711.2 342.9 711.4 348.9 711.6 343.8 711.9 348.9 712.1 352.3 712.3 359.6 712.5 362.9 712.8 368.5 713.0 368.7 713.2 368.5 713.5 367.8 713.7 369.6 713.9 370.2 714.1 370.3 714.4 370.1 714.6 366.4 714.8 368.5 715.1 366.0 715.3 366.5 715.5 367.1 715.7 369.3 716.0 358.1 716.2 359.0 716.4 360.5 716.7 357.9 716.9 365.6 717.1 368.3 717.3 366.6 717.6 369.5 717.8 368.6 718.0 360.6 718.3 367.0 718.5 366.1 718.7 361.7 718.9 369.1 719.2 367.5 719.4 366.9 719.6 369.8 719.9 369.4 720.1 366.2 720.3 360.8 720.6 362.3 720.8 356.2 721.0 357.3 721.2 359.0 721.5 364.5 721.7 365.7 721.9 362.1 722.2 362.9 722.4 355.8 722.6 357.4 722.8 358.7 723.1 352.1 723.3 355.1 723.5 355.2 723.8 352.7 724.0 354.0 724.2 353.3 724.4 353.3 724.7 363.4 724.9 355.1 725.1 358.6 725.4 358.7 725.6 353.1 725.8 355.1 726.0 356.9 726.3 355.6 726.5 360.1 726.7 353.9 727.0 352.0 727.2 352.8 727.4 355.4 727.7 348.9 727.9 358.4 728.1 358.2 728.3 358.0 728.6 353.6 728.8 336.7 729.0 336.7 729.3 333.8 729.5 342.5 729.7 334.9 729.9 342.4 730.2 348.6 730.4 349.2 730.6 355.3 730.9 349.8 731.1 340.4 731.3 336.6 731.5 349.9 731.8 355.8 732.0 355.4 732.2 342.9 732.5 354.1 732.7 355.0 732.9 346.9 733.1 342.1 733.4 337.0 733.6 338.7 733.8 338.0 734.1 338.9 734.3 343.1 734.5 354.5 734.7 354.0 735.0 347.6 735.2 352.5 735.4 347.5 735.7 349.9 735.9 352.1 736.1 344.1 736.4 347.5 736.6 354.0 736.8 354.9 737.0 351.6 737.3 348.4 737.5 352.8 737.7 347.9 738.0 348.2 738.2 335.5 738.4 344.6 738.6 352.5 738.9 354.6 739.1 354.7 739.3 354.6 739.6 354.7 739.8 354.5 740.0 354.7 740.2 351.7 740.5 342.2 740.7 351.2 740.9 340.3 741.2 333.6 741.4 329.0 741.6 337.2 741.8 347.8 742.1 337.1 742.3 353.4 742.5 353.0 742.8 353.1 743.0 353.0 743.2 353.9 743.5 353.0 743.7 352.3 743.9 349.2 744.1 352.2 744.4 312.3 744.6 345.7 744.8 344.8 745.1 351.4 745.3 352.6 745.5 348.3 745.7 349.3 746.0 349.7 746.2 349.2 746.4 342.8 746.7 339.8 746.9 326.2 747.1 326.1 747.3 326.3 747.6 326.4 747.8 330.0 748.0 331.7 748.3 329.8 748.5 327.4 748.7 330.1 748.9 337.7 749.2 339.5 749.4 343.6 749.6 346.8 749.9 342.1 750.1 332.3 750.3 340.4 750.5 329.0 750.8 332.2 751.0 347.3 751.2 342.3 751.5 342.6 751.7 338.4 751.9 351.9 752.2 346.2 752.4 338.3 752.6 348.8 752.8 353.0 753.1 344.4 753.3 329.8 753.5 327.0 753.8 339.4 754.0 330.4 754.2 342.3 754.4 344.2 754.7 344.6 754.9 333.2 755.1 328.6 755.4 331.4 755.6 334.4 755.8 347.9 756.0 347.8 756.3 339.4 756.5 343.9 756.7 352.9 757.0 344.4 757.2 348.8 757.4 348.7 757.6 348.4 757.9 347.8 758.1 354.4 758.3 354.6 758.6 357.8 758.8 361.0 759.0 368.1 759.3 367.8 759.5 366.9 759.7 355.8 759.9 347.1 760.2 363.1 760.4 366.5 760.6 360.4 760.9 357.2 761.1 361.4 761.3 364.6 761.5 364.7 761.8 365.6 762.0 367.8 762.2 363.9 762.5 351.1 762.7 354.1 762.9 352.7 763.1 366.2 763.4 367.2 763.6 368.5 763.8 366.1 764.1 355.6 764.3 364.1 764.5 365.4 764.7 366.9 765.0 366.4 765.2 368.2 765.4 363.6 765.7 365.5 765.9 367.4 766.1 368.0 766.3 367.2 766.6 357.0 766.8 353.9 767.0 350.8 767.3 354.4 767.5 356.0 767.7 350.2 768.0 341.9 768.2 336.1 768.4 336.7 768.6 342.6 768.9 342.4 769.1 338.9 769.3 337.5 769.6 337.1 769.8 333.6 770.0 332.6 770.2 331.2 770.5 329.5 770.7 330.5 770.9 327.7 771.2 331.6 771.4 335.6 771.6 330.7 771.8 333.0 772.1 329.4 772.3 337.9 772.5 336.5 772.8 334.9 773.0 332.5 773.2 335.2 773.4 339.4 773.7 342.7 773.9 349.5 774.1 356.7 774.4 355.8 774.6 357.7 774.8 354.5 775.1 367.8 775.3 368.5 775.5 365.7 775.7 363.4 776.0 366.0 776.2 368.3 776.4 369.6 776.7 370.0 776.9 372.1 777.1 372.8 777.3 374.1 777.6 373.7 777.8 375.2 778.0 374.1 778.3 374.2 778.5 374.4 778.7 374.0 778.9 376.1 779.2 376.6 779.4 376.5 779.6 376.2 779.9 376.0 780.1 375.8 780.3 373.2 780.5 375.6 780.8 373.7 781.0 373.6 781.2 375.2 781.5 375.1 781.7 376.0 781.9 376.2 782.1 375.8 782.4 375.0 782.6 375.0 782.8 374.1 783.1 375.9 783.3 374.3 783.5 374.6 783.8 375.9 784.0 374.5 784.2 374.5 784.4 375.0 784.7 375.4 784.9 376.1 785.1 377.0 785.4 376.8 785.6 376.4 785.8 376.6 786.0 376.6 786.3 377.2" stroke="#2424d6" stroke-width="0.65" fill="none" stroke-linejoin="round"/>
<path d="M447.6 377.2 447.8 376.0 448.1 375.3 448.3 374.4 448.5 374.3 448.7 372.7 449.0 372.5 449.2 369.7 449.4 367.7 449.7 365.8 449.9 367.4 450.1 365.4 450.3 363.3 450.6 360.5 450.8 360.3 451.0 357.4 451.3 354.4 451.5 354.0 451.7 352.7 452.0 352.7 452.2 350.8 452.4 350.8 452.6 349.8 452.9 348.8 453.1 348.3 453.3 347.8 453.6 348.7 453.8 348.0 454.0 348.9 454.2 348.7 454.5 349.0 454.7 348.2 454.9 348.8 455.2 348.1 455.4 349.0 455.6 349.0 455.8 349.1 456.1 349.8 456.3 349.6 456.5 348.9 456.8 349.6 457.0 349.3 457.2 349.3 457.4 348.9 457.7 349.1 457.9 348.9 458.1 348.6 458.4 348.5 458.6 348.8 458.8 347.9 459.0 348.8 459.3 348.7 459.5 366.7 459.7 369.3 460.0 372.1 460.2 373.3 460.4 376.8 460.7 376.6 460.9 376.7 461.1 377.1 461.3 376.7 461.6 376.9 461.8 376.5 462.0 375.8 462.3 377.0 462.5 376.4 462.7 377.1 462.9 376.1 463.2 377.2 463.4 377.2 463.6 376.9 463.9 376.3 464.1 376.9 464.3 376.3 464.5 376.0 464.8 377.0 465.0 376.3 465.2 376.2 465.5 376.6 465.7 375.5 465.9 377.0 466.1 376.3 466.4 377.2 466.6 377.2 466.8 375.5 467.1 377.0 467.3 376.3 467.5 368.3 467.8 361.9 468.0 362.3 468.2 363.6 468.4 363.8 468.7 364.5 468.9 364.7 469.1 364.7 469.4 364.7 469.6 364.7 469.8 364.7 470.0 364.7 470.3 364.7 470.5 364.7 470.7 364.7 471.0 364.7 471.2 364.7 471.4 364.7 471.6 364.7 471.9 364.7 472.1 364.7 472.3 364.7 472.6 364.7 472.8 364.7 473.0 364.7 473.2 364.7 473.5 364.7 473.7 364.7 473.9 364.7 474.2 364.7 474.4 364.7 474.6 364.7 474.8 364.7 475.1 364.7 475.3 364.7 475.5 364.7 475.8 364.7 476.0 365.2 476.2 365.8 476.5 366.5 476.7 367.1 476.9 367.8 477.1 368.3 477.4 368.9 477.6 369.6 477.8 366.8 478.1 366.7 478.3 359.1 478.5 370.0 478.7 363.2 479.0 363.0 479.2 352.4 479.4 353.8 479.7 359.0 479.9 366.3 480.1 362.4 480.3 371.1 480.6 371.2 480.8 371.9 481.0 358.1 481.3 357.4 481.5 363.1 481.7 372.0 481.9 372.0 482.2 372.0 482.4 371.9 482.6 371.5 482.9 371.9 483.1 372.1 483.3 372.0 483.6 371.9 483.8 371.7 484.0 371.4 484.2 369.3 484.5 371.3 484.7 368.5 484.9 370.9 485.2 370.1 485.4 371.3 485.6 371.0 485.8 362.5 486.1 360.5 486.3 362.2 486.5 364.7 486.8 369.5 487.0 371.8 487.2 372.1 487.4 372.0 487.7 371.3 487.9 367.0 488.1 371.9 488.4 372.0 488.6 370.9 488.8 371.2 489.0 368.0 489.3 360.0 489.5 369.7 489.7 362.4 490.0 364.1 490.2 367.9 490.4 366.0 490.6 369.9 490.9 372.0 491.1 370.2 491.3 367.3 491.6 362.8 491.8 363.5 492.0 370.9 492.3 369.5 492.5 354.2 492.7 352.9 492.9 355.9 493.2 356.5 493.4 361.6 493.6 362.0 493.9 361.3 494.1 367.9 494.3 366.7 494.5 366.7 494.8 366.8 495.0 347.8 495.2 353.6 495.5 367.5 495.7 368.5 495.9 371.9 496.1 363.1 496.4 367.7 496.6 368.1 496.8 366.6 497.1 339.6 497.3 366.7 497.5 365.1 497.7 367.0 498.0 367.9 498.2 364.4 498.4 368.6 498.7 354.9 498.9 358.3 499.1 352.0 499.4 360.8 499.6 362.1 499.8 368.8 500.0 365.1 500.3 365.8 500.5 369.6 500.7 371.5 501.0 357.5 501.2 355.2 501.4 352.8 501.6 348.7 501.9 349.6 502.1 346.3 502.3 350.0 502.6 351.0 502.8 346.1 503.0 357.2 503.2 356.6 503.5 364.7 503.7 350.9 503.9 358.3 504.2 358.4 504.4 361.0 504.6 368.3 504.8 369.3 505.1 371.6 505.3 367.1 505.5 371.6 505.8 366.0 506.0 367.0 506.2 364.9 506.4 363.6 506.7 365.1 506.9 367.6 507.1 372.0 507.4 374.6 507.6 376.1 507.8 372.6 508.1 370.0 508.3 370.8 508.5 354.6 508.7 349.6 509.0 345.4 509.2 358.7 509.4 365.6 509.7 370.5 509.9 375.5 510.1 374.3 510.3 370.7 510.6 374.7 510.8 375.0 511.0 364.2 511.3 375.5 511.5 374.6 511.7 354.0 511.9 347.5 512.2 345.4 512.4 340.7 512.6 340.2 512.9 340.7 513.1 348.3 513.3 369.4 513.5 374.1 513.8 361.9 514.0 372.2 514.2 374.4 514.5 363.1 514.7 369.8 514.9 365.2 515.2 375.3 515.4 376.0 515.6 376.7 515.8 376.8 516.1 377.2 516.3 377.2 516.5 375.8 516.8 374.3 517.0 364.8 517.2 372.9 517.4 350.4 517.7 362.0 517.9 365.5 518.1 359.6 518.4 365.5 518.6 363.2 518.8 346.7 519.0 346.7 519.3 354.7 519.5 345.3 519.7 353.8 520.0 361.4 520.2 359.3 520.4 356.7 520.6 375.5 520.9 371.1 521.1 372.7 521.3 376.7 521.6 377.1 521.8 377.2 522.0 377.2 522.2 376.2 522.5 364.9 522.7 369.1 522.9 370.6 523.2 369.5 523.4 355.3 523.6 353.2 523.9 342.5 524.1 343.2 524.3 341.0 524.5 360.1 524.8 372.7 525.0 370.7 525.2 371.1 525.5 374.8 525.7 376.7 525.9 377.2 526.1 376.7 526.4 376.1 526.6 369.9 526.8 372.9 527.1 370.7 527.3 361.7 527.5 351.7 527.7 360.4 528.0 360.7 528.2 343.7 528.4 371.3 528.7 364.5 528.9 362.4 529.1 366.3 529.3 376.4 529.6 375.3 529.8 376.3 530.0 376.4 530.3 376.8 530.5 377.1 530.7 376.6 531.0 377.1 531.2 373.4 531.4 369.5 531.6 372.2 531.9 368.2 532.1 356.1 532.3 360.3 532.6 351.4 532.8 339.9 533.0 340.8 533.2 341.3 533.5 346.7 533.7 348.8 533.9 360.4 534.2 344.2 534.4 353.6 534.6 347.6 534.8 357.0 535.1 357.3 535.3 369.4 535.5 374.6 535.8 357.0 536.0 347.7 536.2 350.1 536.4 357.3 536.7 359.5 536.9 372.1 537.1 369.7 537.4 349.9 537.6 363.5 537.8 341.7 538.0 345.1 538.3 341.1 538.5 342.1 538.7 358.1 539.0 373.9 539.2 359.3 539.4 350.3 539.7 368.1 539.9 345.8 540.1 353.7 540.3 339.9 540.6 345.2 540.8 343.9 541.0 349.0 541.3 364.9 541.5 358.6 541.7 373.2 541.9 376.5 542.2 376.3 542.4 377.2 542.6 377.2 542.9 377.2 543.1 377.1 543.3 375.0 543.5 364.7 543.8 368.8 544.0 349.7 544.2 353.2 544.5 362.7 544.7 354.4 544.9 346.4 545.1 351.9 545.4 364.0 545.6 359.3 545.8 365.3 546.1 376.2 546.3 375.1 546.5 374.3 546.8 372.3 547.0 366.6 547.2 352.0 547.4 366.2 547.7 362.6 547.9 348.8 548.1 370.2 548.4 357.3 548.6 351.9 548.8 327.0 549.0 326.9 549.3 338.1 549.5 342.4 549.7 351.3 550.0 344.4 550.2 363.7 550.4 358.2 550.6 361.5 550.9 361.2 551.1 353.4 551.3 349.0 551.6 328.1 551.8 330.8 552.0 329.5 552.2 343.6 552.5 354.2 552.7 335.7 552.9 350.5 553.2 365.3 553.4 368.4 553.6 368.5 553.8 368.6 554.1 368.6 554.3 363.0 554.5 363.5 554.8 354.5 555.0 329.0 555.2 344.2 555.5 356.6 555.7 367.9 555.9 357.0 556.1 353.0 556.4 367.8 556.6 356.0 556.8 341.8 557.1 368.3 557.3 368.6 557.5 366.0 557.7 367.8 558.0 367.3 558.2 361.0 558.4 357.1 558.7 363.3 558.9 354.2 559.1 334.1 559.3 345.0 559.6 322.8 559.8 323.1 560.0 324.4 560.3 346.9 560.5 362.9 560.7 367.2 560.9 356.9 561.2 365.2 561.4 347.6 561.6 334.2 561.9 350.0 562.1 350.6 562.3 327.0 562.6 341.8 562.8 367.1 563.0 367.2 563.2 361.5 563.5 342.8 563.7 336.2 563.9 320.9 564.2 320.6 564.4 321.0 564.6 320.4 564.8 320.2 565.1 320.4 565.3 320.4 565.5 320.7 565.8 322.4 566.0 325.9 566.2 345.2 566.4 348.4 566.7 361.5 566.9 348.8 567.1 343.1 567.4 362.5 567.6 314.0 567.8 362.3 568.0 368.1 568.3 368.1 568.5 366.4 568.7 342.6 569.0 343.2 569.2 337.3 569.4 324.3 569.6 321.8 569.9 324.6 570.1 324.4 570.3 334.5 570.6 345.4 570.8 347.6 571.0 347.2 571.3 334.3 571.5 329.2 571.7 325.4 571.9 358.5 572.2 362.4 572.4 361.7 572.6 367.8 572.9 368.7 573.1 368.5 573.3 351.0 573.5 365.5 573.8 361.5 574.0 336.0 574.2 347.1 574.5 355.0 574.7 366.9 574.9 367.0 575.1 358.2 575.4 341.7 575.6 350.0 575.8 337.1 576.1 362.0 576.3 364.9 576.5 362.8 576.7 360.4 577.0 343.3 577.2 351.5 577.4 368.2 577.7 359.4 577.9 329.8 578.1 332.3 578.4 343.9 578.6 356.1 578.8 355.4 579.0 368.0 579.3 366.3 579.5 366.7 579.7 368.5 580.0 368.0 580.2 366.1 580.4 345.4 580.6 353.4 580.9 329.8 581.1 350.2 581.3 360.6 581.6 355.6 581.8 364.3 582.0 361.3 582.2 366.9 582.5 367.9 582.7 367.9 582.9 363.5 583.2 362.6 583.4 366.4 583.6 348.6 583.8 355.6 584.1 348.8 584.3 349.3 584.5 341.7 584.8 350.2 585.0 362.9 585.2 357.7 585.4 354.5 585.7 348.0 585.9 345.9 586.1 344.9 586.4 364.0 586.6 347.4 586.8 335.7 587.1 342.5 587.3 342.7 587.5 346.7 587.7 329.1 588.0 359.8 588.2 362.5 588.4 352.0 588.7 366.2 588.9 366.8 589.1 339.3 589.3 358.9 589.6 358.6 589.8 362.8 590.0 361.7 590.3 363.7 590.5 357.3 590.7 366.5 590.9 335.2 591.2 329.5 591.4 329.4 591.6 341.1 591.9 339.7 592.1 342.2 592.3 332.9 592.5 338.6 592.8 343.4 593.0 323.8 593.2 321.0 593.5 319.5 593.7 319.5 593.9 333.4 594.2 330.0 594.4 326.3 594.6 327.7 594.8 322.1 595.1 320.3 595.3 321.5 595.5 321.8 595.8 332.7 596.0 333.8 596.2 349.9 596.4 367.4 596.7 359.4 596.9 372.8 597.1 372.3 597.4 375.0 597.6 372.7 597.8 374.8 598.0 376.0 598.3 375.7 598.5 375.8 598.7 376.4 599.0 376.8 599.2 376.5 599.4 374.3 599.6 377.0 599.9 374.9 600.1 372.9 600.3 371.1 600.6 371.9 600.8 370.4 601.0 371.3 601.2 367.8 601.5 361.4 601.7 356.6 601.9 348.7 602.2 364.4 602.4 317.4 602.6 352.6 602.9 350.2 603.1 345.6 603.3 343.8 603.5 335.7 603.8 337.4 604.0 340.2 604.2 357.9 604.5 364.6 604.7 369.2 604.9 367.8 605.1 368.1 605.4 367.5 605.6 361.7 605.8 366.0 606.1 350.4 606.3 367.4 606.5 351.2 606.7 341.8 607.0 355.4 607.2 357.3 607.4 344.7 607.7 359.5 607.9 359.7 608.1 349.1 608.3 344.7 608.6 356.7 608.8 370.0 609.0 366.0 609.3 358.8 609.5 336.9 609.7 334.1 610.0 363.7 610.2 370.0 610.4 371.2 610.6 369.5 610.9 369.5 611.1 366.7 611.3 368.6 611.6 371.4 611.8 370.2 612.0 371.7 612.2 371.7 612.5 371.8 612.7 371.8 612.9 365.3 613.2 362.0 613.4 361.1 613.6 354.9 613.8 344.6 614.1 331.1 614.3 357.0 614.5 365.5 614.8 319.3 615.0 346.3 615.2 291.8 615.4 368.3 615.7 367.9 615.9 368.4 616.1 354.1 616.4 335.1 616.6 357.1 616.8 315.2 617.0 331.4 617.3 335.0 617.5 353.4 617.7 364.0 618.0 308.9 618.2 324.4 618.4 319.8 618.7 324.2 618.9 335.8 619.1 315.8 619.3 349.6 619.6 352.4 619.8 363.6 620.0 361.8 620.3 361.4 620.5 365.1 620.7 368.4 620.9 362.7 621.2 320.3 621.4 320.7 621.6 330.4 621.9 353.4 622.1 338.4 622.3 329.4 622.5 311.3 622.8 318.4 623.0 310.8 623.2 325.3 623.5 320.9 623.7 315.6 623.9 329.1 624.1 365.0 624.4 358.6 624.6 348.7 624.8 321.9 625.1 314.3 625.3 309.6 625.5 320.3 625.8 310.4 626.0 312.0 626.2 311.0 626.4 347.5 626.7 337.9 626.9 341.1 627.1 342.2 627.4 310.3 627.6 322.6 627.8 338.9 628.0 338.1 628.3 332.4 628.5 356.4 628.7 367.0 629.0 362.2 629.2 368.7 629.4 358.2 629.6 363.8 629.9 369.9 630.1 360.4 630.3 347.4 630.6 335.6 630.8 335.4 631.0 325.2 631.2 338.0 631.5 366.7 631.7 366.0 631.9 364.2 632.2 365.1 632.4 356.8 632.6 322.7 632.9 317.0 633.1 318.1 633.3 315.7 633.5 339.8 633.8 311.8 634.0 315.6 634.2 311.3 634.5 310.0 634.7 309.5 634.9 309.0 635.1 309.7 635.4 309.5 635.6 312.1 635.8 316.7 636.1 359.4 636.3 349.5 636.5 348.6 636.7 338.3 637.0 354.8 637.2 364.6 637.4 350.1 637.7 346.6 637.9 330.8 638.1 307.2 638.3 368.1 638.6 353.4 638.8 346.0 639.0 343.0 639.3 333.4 639.5 330.6 639.7 336.1 639.9 357.2 640.2 350.8 640.4 354.1 640.6 357.0 640.9 372.3 641.1 371.2 641.3 361.7 641.6 339.0 641.8 365.8 642.0 343.5 642.2 356.3 642.5 333.2 642.7 337.2 642.9 359.9 643.2 334.3 643.4 366.3 643.6 354.3 643.8 355.8 644.1 346.1 644.3 331.8 644.5 334.7 644.8 318.4 645.0 307.2 645.2 336.9 645.4 316.2 645.7 348.3 645.9 369.9 646.1 372.5 646.4 375.2 646.6 362.4 646.8 345.1 647.0 360.3 647.3 366.3 647.5 330.6 647.7 349.7 648.0 363.8 648.2 326.8 648.4 315.9 648.7 330.5 648.9 325.8 649.1 366.9 649.3 346.6 649.6 311.5 649.8 321.6 650.0 319.0 650.3 328.0 650.5 307.2 650.7 359.1 650.9 364.6 651.2 371.0 651.4 367.9 651.6 361.3 651.9 348.8 652.1 339.9 652.3 340.7 652.5 343.6 652.8 349.1 653.0 365.2 653.2 363.6 653.5 363.9 653.7 368.5 653.9 366.9 654.1 357.4 654.4 339.5 654.6 354.1 654.8 341.0 655.1 353.2 655.3 352.7 655.5 344.1 655.7 350.3 656.0 357.3 656.2 367.1 656.4 357.0 656.7 366.5 656.9 364.2 657.1 366.1 657.4 364.4 657.6 356.4 657.8 357.0 658.0 354.4 658.3 355.1 658.5 356.6 658.7 366.0 659.0 367.9 659.2 370.8 659.4 363.4 659.6 367.3 659.9 366.8 660.1 374.9 660.3 372.9 660.6 367.0 660.8 368.3 661.0 366.0 661.2 370.1 661.5 374.7 661.7 373.5 661.9 373.7 662.2 372.7 662.4 365.7 662.6 376.5 662.8 372.9 663.1 365.9 663.3 366.5 663.5 369.2 663.8 376.1 664.0 373.1 664.2 364.4 664.5 362.3 664.7 367.4 664.9 375.8 665.1 364.2 665.4 375.8 665.6 373.4 665.8 373.2 666.1 372.7 666.3 376.3 666.5 375.5 666.7 366.5 667.0 376.7 667.2 372.6 667.4 377.2 667.7 371.6 667.9 376.6 668.1 377.0 668.3 365.5 668.6 375.2 668.8 365.5 669.0 374.4 669.3 365.7 669.5 371.9 669.7 368.1 669.9 362.3 670.2 375.2 670.4 368.7 670.6 376.6 670.9 371.5 671.1 375.8 671.3 366.3 671.5 376.4 671.8 371.8 672.0 376.7 672.2 371.4 672.5 364.0 672.7 366.3 672.9 371.4 673.2 363.4 673.4 371.1 673.6 374.6 673.8 376.0 674.1 365.4 674.3 375.9 674.5 368.4 674.8 364.5 675.0 374.5 675.2 366.6 675.4 376.3 675.7 377.0 675.9 368.0 676.1 372.0 676.4 362.8 676.6 363.1 676.8 366.5 677.0 366.0 677.3 367.8 677.5 366.5 677.7 373.9 678.0 361.0 678.2 367.6 678.4 371.9 678.6 366.2 678.9 363.9 679.1 365.5 679.3 355.3 679.6 351.2 679.8 357.6 680.0 365.0 680.3 364.8 680.5 364.4 680.7 363.1 680.9 362.8 681.2 334.5 681.4 366.0 681.6 366.8 681.9 366.6 682.1 364.2 682.3 369.7M703.1 342.8 703.4 351.9 703.6 337.6 703.8 338.7 704.1 342.1 704.3 361.0 704.5 359.2 704.8 339.3 705.0 346.9 705.2 344.9 705.4 335.2 705.7 348.4 705.9 352.2 706.1 349.6 706.4 358.2 706.6 348.1 706.8 336.4 707.0 335.9 707.3 341.3 707.5 342.9 707.7 363.7 708.0 357.9 708.2 365.9 708.4 356.9 708.6 365.7 708.9 357.0 709.1 366.0 709.3 369.6 709.6 372.4 709.8 372.1 710.0 371.8 710.2 363.9 710.5 366.8 710.7 368.4 710.9 363.0 711.2 365.2 711.4 363.5 711.6 360.9 711.9 357.9 712.1 359.9 712.3 314.0 712.5 348.6 712.8 351.1 713.0 355.1 713.2 343.0 713.5 350.9 713.7 347.9 713.9 336.3 714.1 353.6 714.4 356.3 714.6 348.0 714.8 347.4 715.1 331.0 715.3 336.4 715.5 338.6 715.7 353.2 716.0 355.3 716.2 342.1 716.4 351.1 716.7 347.3 716.9 348.8 717.1 329.6 717.3 348.9 717.6 340.9 717.8 342.6 718.0 350.5 718.3 350.7 718.5 345.7 718.7 327.4 718.9 326.6 719.2 327.0 719.4 327.8 719.6 339.8 719.9 346.6 720.1 341.4 720.3 344.8 720.6 337.2 720.8 331.3 721.0 322.4 721.2 322.1 721.5 329.9 721.7 322.0 721.9 331.1 722.2 330.5 722.4 314.0 722.6 332.8 722.8 332.4 723.1 331.1 723.3 333.5 723.5 325.6 723.8 329.9 724.0 330.3 724.2 327.1 724.4 328.5 724.7 329.5 724.9 328.9 725.1 334.3 725.4 325.6 725.6 300.3 725.8 334.7 726.0 334.2 726.3 332.6 726.5 330.7 726.7 333.9 727.0 335.4 727.2 334.9 727.4 334.9 727.7 328.5 727.9 331.1 728.1 326.1 728.3 329.5 728.6 337.3 728.8 337.9 729.0 331.9 729.3 308.9 729.5 317.5 729.7 321.5 729.9 326.3 730.2 330.2 730.4 320.5 730.6 310.7 730.9 323.0 731.1 323.7 731.3 332.6 731.5 329.3 731.8 339.1 732.0 341.3 732.2 339.3 732.5 336.1 732.7 335.3 732.9 318.4 733.1 330.2 733.4 334.3 733.6 324.5 733.8 330.2 734.1 341.7 734.3 335.7 734.5 342.0 734.7 347.7 735.0 356.9 735.2 360.0 735.4 362.2 735.7 364.4 735.9 366.5 736.1 368.2 736.4 368.6 736.6 368.4 736.8 360.1 737.0 344.4 737.3 355.4 737.5 336.0 737.7 336.3 738.0 335.8 738.2 334.9 738.4 342.7 738.6 351.2 738.9 352.2 739.1 351.6 739.3 363.9 739.6 355.8 739.8 360.9 740.0 358.9 740.2 352.3 740.5 359.7 740.7 346.6 740.9 359.6 741.2 368.5 741.4 363.6 741.6 363.9 741.8 368.4 742.1 368.4 742.3 366.8 742.5 366.5 742.8 360.5 743.0 366.2 743.2 365.4 743.5 366.5 743.7 366.5 743.9 363.1 744.1 351.5 744.4 356.8 744.6 362.3 744.8 355.3 745.1 355.1 745.3 368.4 745.5 367.9 745.7 368.5 746.0 369.1 746.2 369.2 746.4 369.4 746.7 359.2 746.9 365.3 747.1 367.6 747.3 369.8 747.6 369.7 747.8 366.2 748.0 368.3 748.3 364.3 748.5 362.1 748.7 362.5 748.9 339.8 749.2 351.4 749.4 352.8 749.6 367.2 749.9 361.4 750.1 367.6 750.3 369.7 750.5 365.7 750.8 369.2 751.0 364.5 751.2 371.2 751.5 369.2 751.7 370.9 751.9 371.6 752.2 370.7 752.4 360.4 752.6 359.1 752.8 346.7 753.1 345.7 753.3 358.8 753.5 346.6 753.8 353.9 754.0 349.6 754.2 352.4 754.4 364.6 754.7 368.1 754.9 372.2 755.1 370.9 755.4 372.8 755.6 363.5 755.8 365.6 756.0 372.6 756.3 370.9 756.5 373.1 756.7 365.3 757.0 360.3 757.2 371.3 757.4 362.3 757.6 355.6 757.9 355.6 758.1 370.5 758.3 373.4 758.6 355.6 758.8 372.7 759.0 372.1 759.3 371.3 759.5 374.1 759.7 374.4 759.9 374.5 760.2 374.4 760.4 374.6 760.6 373.6 760.9 371.5 761.1 371.5 761.3 373.1 761.5 374.1 761.8 372.5 762.0 374.2 762.2 375.1 762.5 375.2 762.7 368.6 762.9 359.3 763.1 369.4 763.4 375.3 763.6 375.7 763.8 375.8 764.1 375.6 764.3 375.3 764.5 370.1 764.7 358.4 765.0 364.1 765.2 357.5 765.4 360.4 765.7 371.4 765.9 373.9 766.1 375.9 766.3 376.6 766.6 375.4 766.8 369.9 767.0 367.0 767.3 370.1 767.5 369.9 767.7 367.1 768.0 366.9 768.2 372.0 768.4 372.0 768.6 371.9 768.9 366.0 769.1 360.8 769.3 372.9 769.6 357.2 769.8 358.1 770.0 365.9 770.2 375.7 770.5 374.2 770.7 368.2 770.9 374.3 771.2 375.6 771.4 367.6 771.6 364.0 771.8 363.3 772.1 364.3 772.3 361.7 772.5 365.0 772.8 365.6 773.0 370.8 773.2 375.5 773.4 377.1 773.7 377.1 773.9 377.2 774.1 377.1 774.4 376.4 774.6 376.8 774.8 377.1 775.1 377.1 775.3 377.1 775.5 377.1 775.7 375.5 776.0 376.2 776.2 375.7 776.4 376.0 776.7 376.8 776.9 376.0 777.1 375.3 777.3 375.4 777.6 374.1 777.8 375.2 778.0 373.9" stroke="#1c861c" stroke-width="0.65" fill="none" stroke-linejoin="round"/>
<path d="M703.1 377.2V298.6" stroke="#1c861c" stroke-width="0.7"/><path d="M766.8 377.2V294.3" stroke="#1c861c" stroke-width="0.7"/><rect x="447.6" y="135.8" width="339.0" height="102.8" fill="none" stroke="#7a7a7a" stroke-width="0.7"/>
<text x="447.6" y="244.1" class="tl" text-anchor="middle">0</text><text x="490.0" y="244.1" class="tl" text-anchor="middle">100</text><text x="532.4" y="244.1" class="tl" text-anchor="middle">200</text><text x="574.7" y="244.1" class="tl" text-anchor="middle">300</text><text x="617.1" y="244.1" class="tl" text-anchor="middle">400</text><text x="659.5" y="244.1" class="tl" text-anchor="middle">500</text><text x="701.9" y="244.1" class="tl" text-anchor="middle">600</text><text x="744.2" y="244.1" class="tl" text-anchor="middle">700</text><text x="786.6" y="244.1" class="tl" text-anchor="middle">800</text><text x="446.0" y="240.3" class="tl" text-anchor="end">0</text><text x="446.0" y="223.0" class="tl" text-anchor="end">1000</text><text x="446.0" y="205.7" class="tl" text-anchor="end">2000</text><text x="446.0" y="188.4" class="tl" text-anchor="end">3000</text><text x="446.0" y="171.1" class="tl" text-anchor="end">4000</text><text x="446.0" y="153.8" class="tl" text-anchor="end">5000</text><path d="M447.6 238.6v-1.6M447.6 135.8v1.6M490.0 238.6v-1.6M490.0 135.8v1.6M532.4 238.6v-1.6M532.4 135.8v1.6M574.7 238.6v-1.6M574.7 135.8v1.6M617.1 238.6v-1.6M617.1 135.8v1.6M659.5 238.6v-1.6M659.5 135.8v1.6M701.9 238.6v-1.6M701.9 135.8v1.6M744.2 238.6v-1.6M744.2 135.8v1.6M786.6 238.6v-1.6M786.6 135.8v1.6M447.6 238.6h1.6M786.6 238.6h-1.6M447.6 221.3h1.6M786.6 221.3h-1.6M447.6 204.0h1.6M786.6 204.0h-1.6M447.6 186.7h1.6M786.6 186.7h-1.6M447.6 169.4h1.6M786.6 169.4h-1.6M447.6 152.1h1.6M786.6 152.1h-1.6" stroke="#555" stroke-width="0.5" fill="none"/>
<text x="617.1" y="132.9" class="tt" text-anchor="middle">Node usage</text><text x="0" y="0" class="tl" text-anchor="middle" transform="translate(432.7,187.2) rotate(-90)">nodes</text><rect x="447.6" y="274.7" width="338.9" height="102.5" fill="none" stroke="#7a7a7a" stroke-width="0.7"/>
<text x="447.6" y="382.7" class="tl" text-anchor="middle">0</text><text x="493.4" y="382.7" class="tl" text-anchor="middle">100</text><text x="539.2" y="382.7" class="tl" text-anchor="middle">200</text><text x="585.0" y="382.7" class="tl" text-anchor="middle">300</text><text x="630.8" y="382.7" class="tl" text-anchor="middle">400</text><text x="676.6" y="382.7" class="tl" text-anchor="middle">500</text><text x="722.4" y="382.7" class="tl" text-anchor="middle">600</text><text x="768.2" y="382.7" class="tl" text-anchor="middle">700</text><text x="446.0" y="378.9" class="tl" text-anchor="end">0</text><text x="446.0" y="361.8" class="tl" text-anchor="end">10</text><text x="446.0" y="344.7" class="tl" text-anchor="end">20</text><text x="446.0" y="327.6" class="tl" text-anchor="end">30</text><text x="446.0" y="310.6" class="tl" text-anchor="end">40</text><text x="446.0" y="293.5" class="tl" text-anchor="end">50</text><text x="446.0" y="276.4" class="tl" text-anchor="end">60</text><path d="M447.6 377.2v-1.6M447.6 274.7v1.6M493.4 377.2v-1.6M493.4 274.7v1.6M539.2 377.2v-1.6M539.2 274.7v1.6M585.0 377.2v-1.6M585.0 274.7v1.6M630.8 377.2v-1.6M630.8 274.7v1.6M676.6 377.2v-1.6M676.6 274.7v1.6M722.4 377.2v-1.6M722.4 274.7v1.6M768.2 377.2v-1.6M768.2 274.7v1.6M447.6 377.2h1.6M786.5 377.2h-1.6M447.6 360.1h1.6M786.5 360.1h-1.6M447.6 343.0h1.6M786.5 343.0h-1.6M447.6 325.9h1.6M786.5 325.9h-1.6M447.6 308.9h1.6M786.5 308.9h-1.6M447.6 291.8h1.6M786.5 291.8h-1.6M447.6 274.7h1.6M786.5 274.7h-1.6" stroke="#555" stroke-width="0.5" fill="none"/>
<text x="617.0" y="271.8" class="tt" text-anchor="middle">jobs</text><text x="0" y="0" class="tl" text-anchor="middle" transform="translate(438.1,325.9) rotate(-90)">jobs</text><text x="617.0" y="388.0" class="tl" text-anchor="middle">time (hrs)</text><rect x="743.1" y="277.5" width="40.4" height="16.5" fill="#fff" stroke="#444" stroke-width="0.5"/><path d="M746.5 282.3h8.5" stroke="#8080e0" stroke-width="0.9"/><path d="M746.5 289.7h8.5" stroke="#80c080" stroke-width="0.9"/><text x="760.6" y="284.0" class="tl" style="font-size:5.5px">running</text><text x="760.6" y="291.7" class="tl" style="font-size:5.5px">idle</text></g>
</svg>
<div class="t title" style="left:245.60px;top:32.76px;font-size:33.3px;">CyberShake Study 17.3</div>

<div class="dot" style="left:27.70px;top:78.70px;width:5.3px;height:5.3px"></div>
<div class="t " style="left:41.30px;top:80.00px;font-size:24.4px;letter-spacing:-0.355px">Conducted over 31 days in March-April 2017 on NCSA Blue Waters,</div>
<div class="t " style="left:41.30px;top:106.00px;font-size:24.4px;letter-spacing:-0.355px">OLCF Titan, USC HPC</div>
<div class="dot" style="left:27.70px;top:144.30px;width:5.3px;height:5.3px"></div>
<div class="t " style="left:41.30px;top:146.00px;font-size:24.4px;letter-spacing:-0.355px">2 models at 438 sites</div>
<div class="dot" style="left:27.70px;top:185.60px;width:5.3px;height:5.3px"></div>
<div class="t " style="left:41.30px;top:187.00px;font-size:24.4px;letter-spacing:-0.355px">Averaged 1295 nodes, max of 5374</div>
<div class="dot" style="left:27.70px;top:252.50px;width:5.3px;height:5.3px"></div>
<div class="t " style="left:41.30px;top:254.00px;font-size:24.4px;letter-spacing:-0.355px">Workflow tools scheduled 15,581 jobs</div>
<div class="dot" style="left:27.70px;top:293.90px;width:5.3px;height:5.3px"></div>
<div class="t " style="left:41.30px;top:296.00px;font-size:24.4px;letter-spacing:-0.355px">777 TB of data managed</div>
<div class="dot" style="left:27.70px;top:387.40px;width:5.3px;height:5.3px"></div>
<div class="t " style="left:41.30px;top:389.00px;font-size:24.4px;letter-spacing:-0.355px">Generated 285 million seismograms</div>
<div class="dot" style="left:42.05px;top:214.90px;width:4px;height:4px"></div>
<div class="t " style="left:52.20px;top:216.00px;font-size:20.9px;letter-spacing:-0.36px">900,000 node-hrs (21.6M core-hrs)</div>
<div class="dot" style="left:42.05px;top:322.90px;width:4px;height:4px"></div>
<div class="t " style="left:52.20px;top:324.00px;font-size:20.9px;letter-spacing:-0.36px">308 TB transferred</div>
<div class="dot" style="left:42.05px;top:349.20px;width:4px;height:4px"></div>
<div class="t " style="left:52.20px;top:350.00px;font-size:20.9px;letter-spacing:-0.36px">10.7 TB archived on USC disks</div>

<div id="foot"></div>
<div class="t f" style="left:21.70px;top:441.19px;font-size:11px;letter-spacing:0.36px">12/7/2017</div>

<div class="t f" style="left:302.00px;top:441.00px;font-size:11.85px;font-family:&quot;Liberation Serif&quot;, &quot;Times New Roman&quot;, serif;font-weight:bold;font-style:italic">Southern California Earthquake Center</div>

<div class="t f" style="left:772.10px;top:441.44px;font-size:11px;">10</div>

</body></html>
